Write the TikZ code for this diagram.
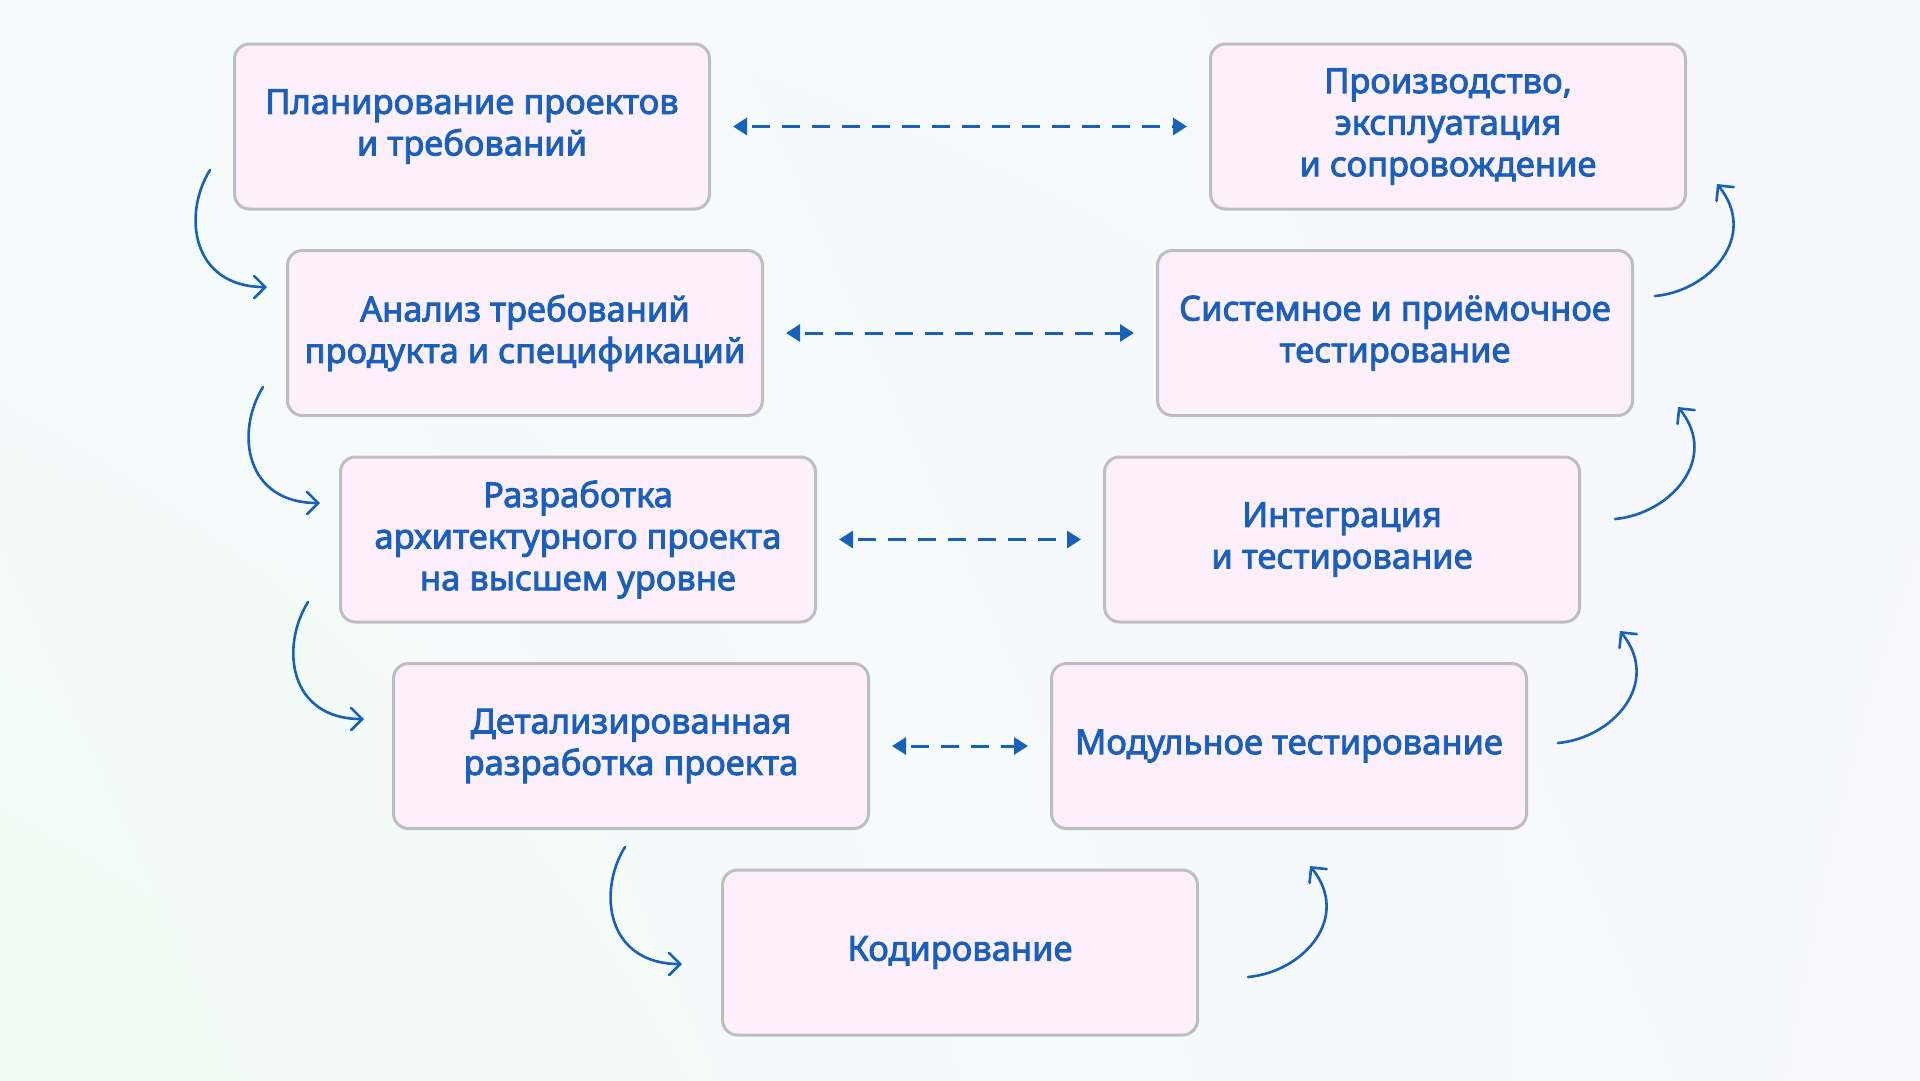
\documentclass[tikz,border=0pt]{standalone}
\usepackage{fontspec}
\setmainfont{Noto Sans}
\newfontfamily\boxfont{Noto Sans}[FakeBold=2.6]
\usetikzlibrary{arrows.meta,shadings}
\definecolor{txtblue}{RGB}{26,96,186}
\definecolor{arrblue}{RGB}{24,96,184}
\definecolor{boxpink}{RGB}{253,239,252}
\definecolor{boxgray}{RGB}{190,190,192}
\definecolor{bgUL}{RGB}{245,251,252}
\definecolor{bgUR}{RGB}{247,247,254}
\definecolor{bgLL}{RGB}{241,252,246}
\definecolor{bgLR}{RGB}{248,248,253}
\tikzset{
  stagebox/.style={draw=boxgray, line width=3pt, fill=boxpink, rounded corners=15pt,
    minimum width=475pt, minimum height=165pt, align=center, text=txtblue,
    font=\boxfont\fontsize{34.5}{41.6}\selectfont, inner sep=0pt},
  dasharr/.style={draw=arrblue, line width=3pt, dash pattern=on 18pt off 12pt, dash phase=24pt,
    {Triangle[length=14pt,width=17pt]}-{Triangle[length=14pt,width=17pt]},
    shorten <=22pt, shorten >=22pt},
  curvearr/.style={draw=arrblue, line width=2.6pt, line cap=round,
    -{Straight Barb[length=11pt,width=22pt,line cap=round]}}
}
\begin{document}
\begin{tikzpicture}[x=1pt,y=-1pt]
\useasboundingbox (0,0) rectangle (1920,1080);
\shade[upper left=bgUL, upper right=bgUR, lower left=bgLL, lower right=bgLR] (0,0) rectangle (1920,1080);

\node[stagebox] (b1) at (472,126.5) {Планирование проектов\\и требований};
\node[stagebox] (b2) at (525,333) {Анализ требований\\продукта и спецификаций};
\node[stagebox] (b3) at (578,539.5) {Разработка\\архитектурного проекта\\на высшем уровне};
\node[stagebox] (b4) at (631,746) {Детализированная\\разработка проекта};
\node[stagebox] (b5) at (960,952.5) {Кодирование};
\node[stagebox] (b6) at (1289,746) {Модульное тестирование};
\node[stagebox] (b7) at (1342,539.5) {Интеграция\\и тестирование};
\node[stagebox] (b8) at (1395,333) {Системное и приёмочное\\тестирование};
\node[stagebox] (b9) at (1448,126.5) {Производство,\\эксплуатация\\и сопровождение};

\draw[dasharr] (b1) -- (b9);
\draw[dasharr] (b2) -- (b8);
\draw[dasharr] (b3) -- (b7);
\draw[dasharr] (b4) -- (b6);

% left descending arrows
\coordinate (la) at (210,170);  \coordinate (lae) at (267,287);
\coordinate (lb) at (263,387);  \coordinate (lbe) at (320,503);
\coordinate (lc) at (308,602);  \coordinate (lce) at (364,719);
\coordinate (ld) at (625,847);  \coordinate (lde) at (682,964);
\draw[curvearr] (la) .. controls +(-28,45) and +(-75,0) .. (lae);
\draw[curvearr] (lb) .. controls +(-28,45) and +(-75,0) .. (lbe);
\draw[curvearr] (lc) .. controls +(-28,45) and +(-75,0) .. (lce);
\draw[curvearr] (ld) .. controls +(-28,45) and +(-75,0) .. (lde);

% right ascending arrows
\coordinate (re) at (1248,977); \coordinate (ree) at (1310,866);
\coordinate (rf) at (1558,743); \coordinate (rfe) at (1620,631);
\coordinate (rg) at (1615,519); \coordinate (rge) at (1678,407);
\coordinate (rh) at (1655,296); \coordinate (rhe) at (1717,184);
\draw[curvearr] (re) .. controls +(55,-5) and +(42,52) .. (ree);
\draw[curvearr] (rf) .. controls +(55,-5) and +(42,52) .. (rfe);
\draw[curvearr] (rg) .. controls +(55,-5) and +(42,52) .. (rge);
\draw[curvearr] (rh) .. controls +(55,-5) and +(42,52) .. (rhe);
\end{tikzpicture}
\end{document}
